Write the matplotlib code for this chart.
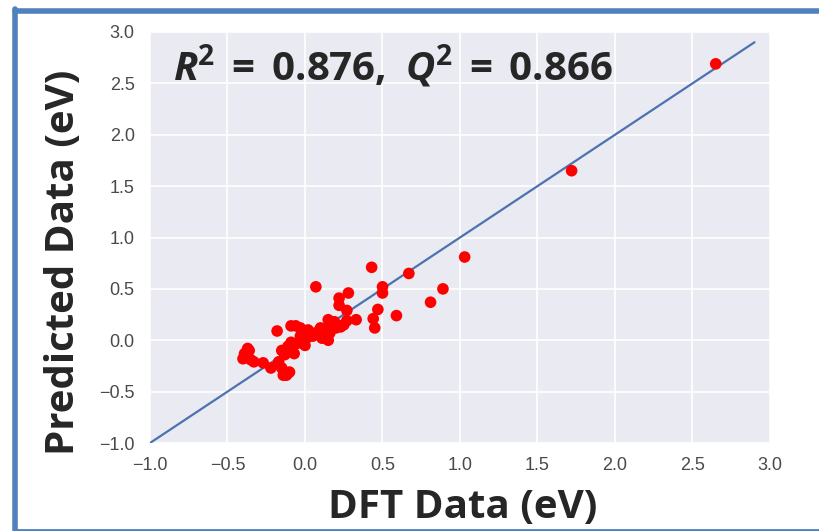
import matplotlib
matplotlib.use("Agg")
import matplotlib.pyplot as plt
from matplotlib.lines import Line2D
import seaborn as sns
import numpy as np

# DFT vs predicted values (eV)
dft = [2.65, 1.72, 1.03, 0.89, 0.81, 0.67, 0.59, 0.50, 0.50, 0.47, 0.44, 0.45, 0.43,
       0.33, 0.28, 0.27, 0.22, 0.22, 0.07,
       0.23, 0.18, 0.15, 0.16, 0.12, 0.15, 0.10, 0.05, 0.02, 0.01, -0.03, -0.03, -0.09,
       -0.18, -0.05, -0.11, -0.15, -0.07, -0.13, -0.17, -0.36, -0.38, -0.33, -0.27,
       -0.22, -0.15, -0.14, -0.11, -0.39, -0.37, -0.40, -0.35, -0.10, -0.12, -0.09,
       0.00, 0.08, 0.20, 0.25, 0.13, 0.19, 0.06, -0.02, 0.27, 0.11, -0.06]
pred = [2.69, 1.65, 0.81, 0.50, 0.37, 0.65, 0.24, 0.52, 0.46, 0.30, 0.21, 0.12, 0.71,
        0.20, 0.46, 0.29, 0.41, 0.34, 0.52,
        0.13, 0.15, 0.20, 0.07, 0.04, 0.00, 0.12, 0.04, 0.10, 0.02, 0.12, 0.04, 0.14,
        0.09, -0.03, -0.06, -0.10, -0.13, -0.14, -0.21, -0.10, -0.16, -0.21, -0.22,
        -0.27, -0.27, -0.34, -0.32, -0.13, -0.08, -0.18, -0.19, -0.31, -0.34, -0.02,
        -0.05, 0.08, 0.12, 0.15, 0.10, 0.18, 0.06, 0.00, 0.19, 0.02, 0.14]
ref_line = [-1.0, 2.9]
ticks = [-1.0, -0.5, 0.0, 0.5, 1.0, 1.5, 2.0, 2.5, 3.0]

sns.set_style("darkgrid")
plt.rcParams['font.family'] = ['Liberation Sans', 'DejaVu Sans']
plt.rcParams['mathtext.fontset'] = 'custom'
plt.rcParams['mathtext.rm'] = 'Open Sans'
plt.rcParams['mathtext.bf'] = 'Open Sans:bold'
plt.rcParams['mathtext.it'] = 'Open Sans:italic'
plt.rcParams['mathtext.bfit'] = 'Open Sans:italic:bold'

fig = plt.figure(figsize=(8.2, 5.31), dpi=100)
ax = fig.add_axes([150/820, 88/531, 620/820, 411/531])
ax.set_facecolor('#EAEAF2')

ax.plot(ref_line, ref_line, color='#4C72B0', lw=1.6, zorder=2)
ax.scatter(dft, pred, s=70, color='red', edgecolors='none', zorder=3)

ax.set_xlim(-1, 3)
ax.set_ylim(-1, 3)
ax.set_xticks(ticks)
ax.set_yticks(ticks)
ax.grid(True, color='white', lw=1.2)
for s in ax.spines.values():
    s.set_visible(False)
ax.tick_params(axis='both', labelsize=13, labelcolor='#4a4a4a', length=0)
ax.tick_params(axis='x', pad=10)
ax.tick_params(axis='y', pad=11)

fig.text(463/820, 1 - 507/531, 'DFT Data (eV)', family='Open Sans', weight='bold',
         fontsize=29, ha='center', va='center')
fig.text(64/820, 1 - 262/531, 'Predicted Data (eV)', family='Open Sans', weight='bold',
         fontsize=29, ha='center', va='center', rotation=90)
fig.text(173/820, 1 - 80/531,
         r'$\mathbfit{R}^{\mathbf{2}}\mathbf{\;=\;0.876,}\ \mathbfit{Q}^{\mathbf{2}}\mathbf{\;=\;0.866}$',
         fontsize=29, ha='left', va='baseline')

# blue frame around the picture
frame = '#4F81BD'
fig.add_artist(Line2D([15.5/820, 1.0], [1 - 10.5/531] * 2, color=frame, lw=4, transform=fig.transFigure))
fig.add_artist(Line2D([15.5/820] * 2, [1 - 8.5/531, 1 - 530/531], color=frame, lw=4, transform=fig.transFigure))
fig.add_artist(Line2D([15.5/820, 1.0], [1 - 529.5/531] * 2, color=frame, lw=2, transform=fig.transFigure))

fig.savefig('out.png', dpi=100)
